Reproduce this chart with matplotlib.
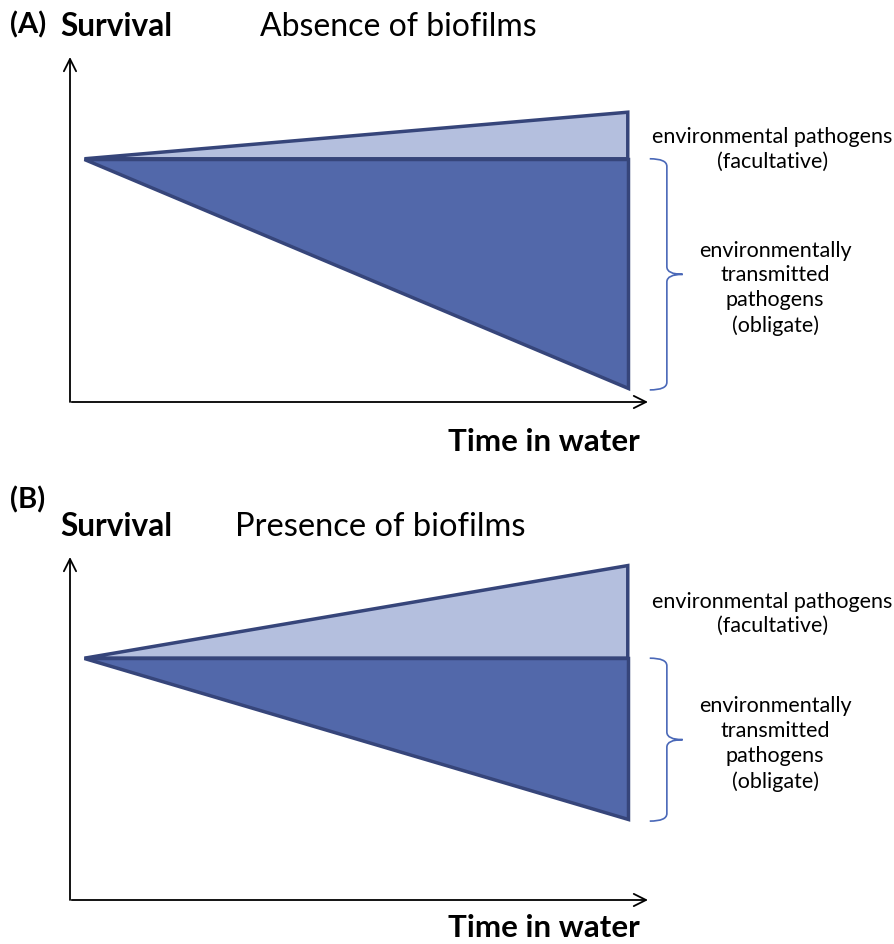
import matplotlib
matplotlib.use('Agg')
import matplotlib.pyplot as plt
from matplotlib.patches import PathPatch
from matplotlib.path import Path

plt.rcParams['font.family'] = ['Lato', 'DejaVu Sans']

# schematic values (arbitrary units, axis runs 0..10 both ways)
time_points = [0.25, 9.65]          # start / end of the time window
survival_start = [7.05, 7.05]       # A, B
facultative_end = [8.4, 9.75]       # environmental pathogens (facultative)
obligate_end = [0.4, 2.35]          # environmentally transmitted (obligate)
panel_tags = ['(A)', '(B)']
panel_titles = ['Absence of biofilms', 'Presence of biofilms']
fac_label = 'environmental pathogens\n(facultative)'
obl_label = 'environmentally\ntransmitted\npathogens\n(obligate)'

light_fill = '#b4bfde'
dark_fill = '#5268aa'
edge_col = '#36457a'
brace_col = '#4a68b8'

W, H = 894, 944
fig = plt.figure(figsize=(W / 100, H / 100), dpi=100)


def px_box(x0, y0, x1, y1):
    # pixel box (top-left origin) -> figure fraction rect
    return [x0 / W, 1 - y1 / H, (x1 - x0) / W, (y1 - y0) / H]


def ftext(x, y, s, **kw):
    fig.text(x / W, 1 - y / H, s, **kw)


def brace(ax, x, y_top, y_bot, w, r):
    x1 = x + w * 0.52
    x2 = x + w
    ym = (y_top + y_bot) / 2
    verts = [(x, y_top), (x1, y_top), (x1, y_top - r),
             (x1, ym + r), (x1, ym), (x2, ym),
             (x1, ym), (x1, ym - r),
             (x1, y_bot + r), (x1, y_bot), (x, y_bot)]
    codes = [Path.MOVETO, Path.CURVE3, Path.CURVE3,
             Path.LINETO, Path.CURVE3, Path.CURVE3,
             Path.CURVE3, Path.CURVE3,
             Path.LINETO, Path.CURVE3, Path.CURVE3]
    ax.add_patch(PathPatch(Path(verts, codes), fill=False, edgecolor=brace_col,
                           lw=1.2, clip_on=False))


# panel axes boxes: origin of the arrows to arrow tips
boxes = [(70, 57, 648, 402), (70, 557, 648, 900)]
# label positions (data units)
fac_label_y = [7.33, 8.34]
obl_label_y = [3.3, 4.55]

for i in range(2):
    ax = fig.add_axes(px_box(*boxes[i]))
    ax.set_xlim(0, 10)
    ax.set_ylim(0, 10)
    ax.axis('off')

    # axes arrows
    ax.annotate('', xy=(0, 1), xytext=(0, 0), xycoords='axes fraction',
                arrowprops=dict(arrowstyle='->', lw=1.3, color='black',
                                mutation_scale=22, shrinkA=0, shrinkB=0))
    ax.annotate('', xy=(1, 0), xytext=(0.003, 0), xycoords='axes fraction',
                arrowprops=dict(arrowstyle='->', lw=1.3, color='black',
                                mutation_scale=22, shrinkA=0, shrinkB=0))

    t0, t1 = time_points
    s0 = survival_start[i]
    # facultative (light) and obligate (dark) wedges
    ax.fill([t0, t1, t1], [s0, facultative_end[i], s0], facecolor=light_fill,
            edgecolor=edge_col, lw=2.5, joinstyle='miter', clip_on=False)
    ax.fill([t0, t1, t1], [s0, s0, obligate_end[i]], facecolor=dark_fill,
            edgecolor=edge_col, lw=2.5, joinstyle='miter', clip_on=False)

    # brace next to the obligate wedge
    brace(ax, 10.03, s0, obligate_end[i] - 0.05, 0.57, 0.22)

    # labels
    ax.text(12.15, fac_label_y[i], fac_label,
            ha='center', va='center', fontsize=15.5, linespacing=1.3, clip_on=False)
    ax.text(12.2, obl_label_y[i], obl_label,
            ha='center', va='center', fontsize=15.5, linespacing=1.3, clip_on=False)

# titles
ftext(10, 33, panel_tags[0], fontsize=21, fontweight='bold', va='baseline')
ftext(60, 36, 'Survival', fontsize=22.8, fontweight='bold', va='baseline')
ftext(260, 36, panel_titles[0], fontsize=23, va='baseline')
ftext(640, 451, 'Time in water', fontsize=22.5, fontweight='bold',
      ha='right', va='baseline')

ftext(10, 508, panel_tags[1], fontsize=21, fontweight='bold', va='baseline')
ftext(60, 536, 'Survival', fontsize=22.8, fontweight='bold', va='baseline')
ftext(235, 536, panel_titles[1], fontsize=23.5, va='baseline')
ftext(640, 937, 'Time in water', fontsize=22.5, fontweight='bold',
      ha='right', va='baseline')

fig.savefig('out.png', dpi=100)
